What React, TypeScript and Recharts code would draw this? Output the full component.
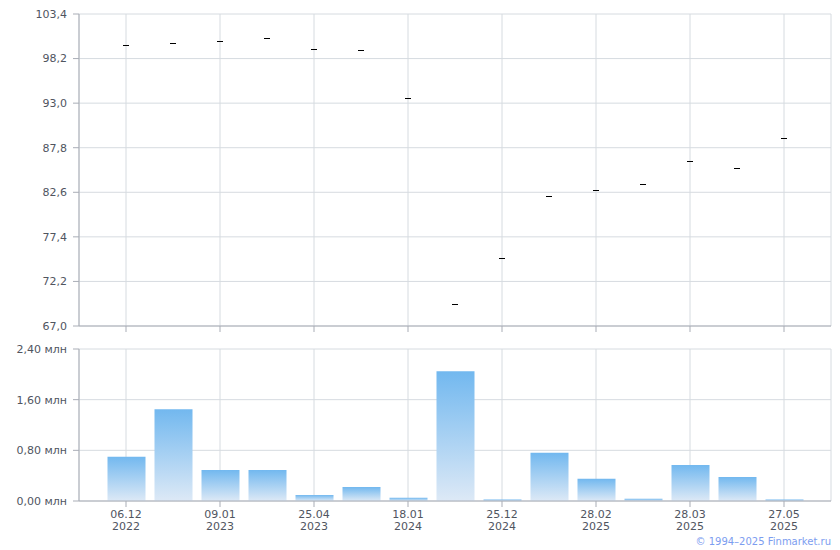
import {
  Bar,
  BarChart,
  CartesianGrid,
  ComposedChart,
  Line,
  XAxis,
  YAxis,
} from "recharts";

const dates = [
  "06.12 2022", "", "09.01 2023", "", "25.04 2023", "", "18.01 2024", "",
  "25.12 2024", "", "28.02 2025", "", "28.03 2025", "", "27.05 2025",
];
const prices = [
  99.8, 100.0, 100.3, 100.55, 99.3, 99.25, 93.55, 69.55, 74.9, 82.15, 82.85,
  83.55, 86.3, 85.4, 88.9,
];
const volumes = [
  0.7, 1.45, 0.49, 0.49, 0.095, 0.22, 0.05, 2.05, 0.022, 0.76, 0.35, 0.035,
  0.57, 0.38, 0.022,
];
const priceTicks = [67, 72.2, 77.4, 82.6, 87.8, 93, 98.2, 103.4];
const volumeTicks = [0, 0.8, 1.6, 2.4];

const data = dates.map((label, i) => ({
  idx: i,
  label,
  price: prices[i],
  volume: volumes[i],
}));
const labelTicks = data.filter((d) => d.label).map((d) => d.idx);

const FONT = "'DejaVu Sans', Verdana, sans-serif";
const TEXT = "#50555f";
const AXIS = "#a9adb6";
const GRID = "#d6dbe0";

const comma = (v: number, digits: number) => v.toFixed(digits).replace(".", ",");

function PriceMark(props: any) {
  const { cx, cy } = props;
  if (cx == null || cy == null) return null;
  return (
    <rect
      x={Math.round(cx) - 3}
      y={Math.round(cy)}
      width={6}
      height={1}
      fill="#000"
      shapeRendering="crispEdges"
    />
  );
}

function DateTick(props: any) {
  const { x, y, payload } = props;
  const [day, year] = (dates[payload.value] || "").split(" ");
  return (
    <text x={x} y={y} textAnchor="middle" fill={TEXT} fontSize={11} fontFamily={FONT}>
      <tspan x={x} dy={9}>{day}</tspan>
      <tspan x={x} dy={12}>{year}</tspan>
    </text>
  );
}

const EmptyTick = () => <g />;

const xCommon = {
  dataKey: "idx",
  type: "category" as const,
  scale: "band" as const,
  ticks: labelTicks,
  interval: 0,
  padding: { left: 23.5, right: 23.5 },
  stroke: AXIS,
  tickLine: { stroke: AXIS },
  tickSize: 6,
};

const yCommon = {
  width: 79,
  stroke: AXIS,
  tickSize: 6,
  tickMargin: 6,
  tick: { fill: TEXT, fontSize: 11, fontFamily: FONT },
};

export default function App() {
  return (
    <div
      style={{
        position: "absolute",
        left: 0,
        top: 0,
        width: 840,
        height: 550,
        background: "#fff",
        fontFamily: FONT,
      }}
    >
      <ComposedChart
        width={840}
        height={340}
        data={data}
        margin={{ top: 14, right: 9, bottom: 8, left: 0 }}
        style={{ position: "absolute", left: 0, top: 0 }}
      >
        <CartesianGrid stroke={GRID} />
        <XAxis {...xCommon} height={6} tick={<EmptyTick />} />
        <YAxis
          {...yCommon}
          domain={[67, 103.4]}
          ticks={priceTicks}
          tickFormatter={(v: number) => comma(v, 1)}
          allowDataOverflow
        />
        <Line
          dataKey="price"
          stroke="none"
          dot={<PriceMark />}
          activeDot={false}
          isAnimationActive={false}
        />
      </ComposedChart>

      <BarChart
        width={840}
        height={210}
        data={data}
        margin={{ top: 9, right: 9, bottom: 9, left: 0 }}
        style={{ position: "absolute", left: 0, top: 340 }}
      >
        <defs>
          <linearGradient id="volGrad" x1="0" y1="0" x2="0" y2="1">
            <stop offset="0%" stopColor="#72b8ef" />
            <stop offset="100%" stopColor="#dde9f6" />
          </linearGradient>
        </defs>
        <CartesianGrid stroke={GRID} />
        <XAxis {...xCommon} height={40} tick={<DateTick />} />
        <YAxis
          {...yCommon}
          domain={[0, 2.4]}
          ticks={volumeTicks}
          tickFormatter={(v: number) => `${comma(v, 2)} млн`}
        />
        <Bar dataKey="volume" fill="url(#volGrad)" barSize={38} isAnimationActive={false} />
      </BarChart>

      <div
        style={{
          position: "absolute",
          right: 9,
          top: 536,
          fontSize: 10,
          color: "#7c9df0",
          fontFamily: FONT,
        }}
      >
        © 1994–2025 Finmarket.ru
      </div>
    </div>
  );
}
